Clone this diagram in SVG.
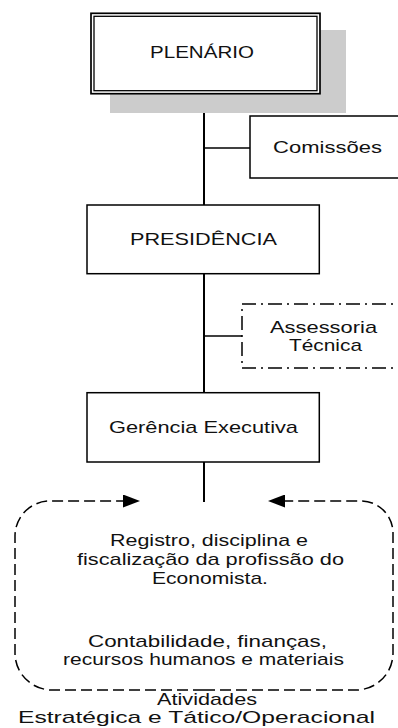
<svg xmlns="http://www.w3.org/2000/svg" width="398" height="728" viewBox="0 0 398 728">
<style>
.box{fill:#fff;stroke:#000;stroke-width:1.5}
.ln{stroke:#000;stroke-width:2;fill:none}
.dash{fill:none;stroke:#000;stroke-width:1.5;stroke-dasharray:11 5}
.dd{fill:#fff;stroke:#000;stroke-width:1.5;stroke-dasharray:14 5 2 5}
text{font-family:"Liberation Sans",Arial,sans-serif;font-size:16px;fill:#111}
</style>
<defs>
<marker id="ah" viewBox="0 0 17 13" refX="0" refY="6.5" markerWidth="17" markerHeight="13" markerUnits="userSpaceOnUse" orient="auto">
<path d="M0,0 L17,6.5 L0,13 Z" fill="#000"/>
</marker>
</defs>
<rect width="398" height="728" fill="#fff"/>
<g id="connectors">
<line class="ln" x1="204" y1="94" x2="204" y2="205"/>
<line class="ln" x1="204" y1="274" x2="204" y2="392"/>
<line class="ln" x1="204" y1="462" x2="204" y2="502"/>
<line class="ln" x1="204" y1="148" x2="250" y2="148" style="stroke-width:1.5"/>
<line class="ln" x1="204" y1="336" x2="242" y2="336" style="stroke-width:1.5"/>
<path class="dash" d="M204,690 H52 A37,37 0 0 1 15,653 V536 A35,35 0 0 1 50,501 H123" marker-end="url(#ah)"/>
<path class="dash" d="M204,690 H356 A37,37 0 0 0 393,653 V533 A32,32 0 0 0 361,501 H285" marker-end="url(#ah)"/>
</g>
<g id="plenario">
<rect x="110" y="30" width="236" height="83" fill="#cccccc"/>
<rect x="91" y="13.3" width="229" height="80.4" fill="#fff" stroke="#000" stroke-width="1.7"/>
<rect x="94" y="16.3" width="223" height="74.4" fill="none" stroke="#000" stroke-width="1.3"/>
<text transform="translate(150,58) scale(1.35,1)" textLength="77" lengthAdjust="spacingAndGlyphs">PLENÁRIO</text>
</g>
<g id="comissoes">
<rect class="box" x="250" y="116" width="160" height="62"/>
<text transform="translate(273,152.5) scale(1.35,1)" textLength="80.7" lengthAdjust="spacingAndGlyphs">Comissões</text>
</g>
<g id="presidencia">
<rect class="box" x="87" y="205" width="232.3" height="68.7"/>
<text transform="translate(130,245) scale(1.35,1)" textLength="108.9" lengthAdjust="spacingAndGlyphs">PRESIDÊNCIA</text>
</g>
<g id="assessoria">
<rect class="dd" x="242" y="304" width="170" height="64"/>
<text transform="translate(270,333) scale(1.35,1)" textLength="79.3" lengthAdjust="spacingAndGlyphs">Assessoria</text>
<text transform="translate(289,351) scale(1.35,1)" textLength="54.1" lengthAdjust="spacingAndGlyphs">Técnica</text>
</g>
<g id="gerencia">
<rect class="box" x="87" y="392.7" width="232.3" height="69.3"/>
<text transform="translate(109,433) scale(1.35,1)" textLength="140" lengthAdjust="spacingAndGlyphs">Gerência Executiva</text>
</g>
<g id="atividades">
<text transform="translate(110,546) scale(1.35,1)" textLength="146.7" lengthAdjust="spacingAndGlyphs">Registro, disciplina e</text>
<text transform="translate(77,565) scale(1.35,1)" textLength="197.8" lengthAdjust="spacingAndGlyphs">fiscalização da profissão do</text>
<text transform="translate(152,584) scale(1.35,1)" textLength="85.9" lengthAdjust="spacingAndGlyphs">Economista.</text>
<text transform="translate(88,647) scale(1.35,1)" textLength="177" lengthAdjust="spacingAndGlyphs">Contabilidade, finanças,</text>
<text transform="translate(63,665) scale(1.35,1)" textLength="208.1" lengthAdjust="spacingAndGlyphs">recursos humanos e materiais</text>
<text transform="translate(157,705) scale(1.35,1)" textLength="74.1" lengthAdjust="spacingAndGlyphs">Atividades</text>
<text transform="translate(18,723) scale(1.35,1)" textLength="264.4" lengthAdjust="spacingAndGlyphs">Estratégica e Tático/Operacional</text>
</g>
</svg>
